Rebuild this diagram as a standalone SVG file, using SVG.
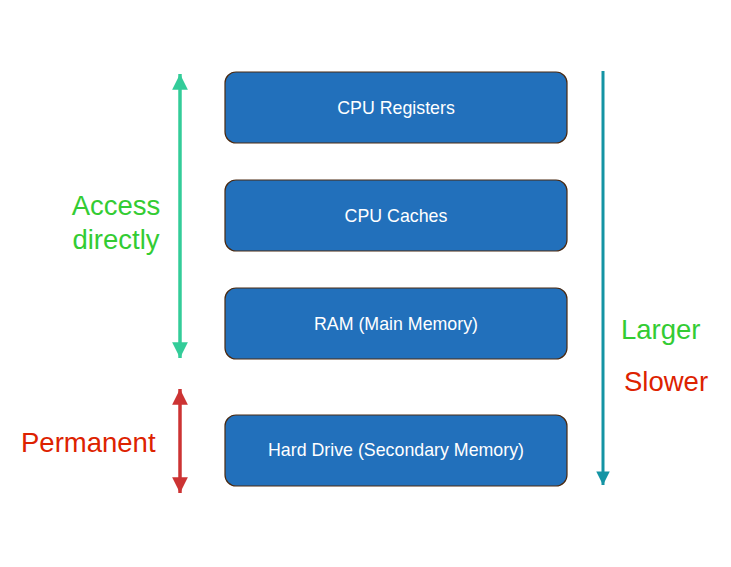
<svg xmlns="http://www.w3.org/2000/svg" width="731" height="567" viewBox="0 0 731 567">
<style>
.box{fill:#2270BB;stroke:#4A2A12;stroke-width:1.2}
.bt{font-family:"Liberation Sans",Arial,sans-serif;font-size:17.8px;fill:#FFFFFF;text-anchor:middle}
.lbl{font-family:"Liberation Sans",Arial,sans-serif;font-size:27.5px}
</style>
<defs>
<marker id="ag" viewBox="0 0 10 10" refX="10" refY="5" markerWidth="5" markerHeight="4.5" orient="auto-start-reverse" markerUnits="strokeWidth"><path d="M0,0 L10,5 L0,10 z" fill="#33CC99"/></marker>
<marker id="ar" viewBox="0 0 10 10" refX="10" refY="5" markerWidth="5" markerHeight="4.5" orient="auto-start-reverse" markerUnits="strokeWidth"><path d="M0,0 L10,5 L0,10 z" fill="#CC3333"/></marker>
<marker id="at" viewBox="0 0 10 10" refX="10" refY="5" markerWidth="5" markerHeight="4.5" orient="auto" markerUnits="strokeWidth"><path d="M0,0 L10,5 L0,10 z" fill="#1494A4"/></marker>
</defs>
<rect width="731" height="567" fill="#FFFFFF"/>
<g id="n1"><rect class="box" x="225" y="72" width="342" height="71" rx="11"/><text class="bt" x="396" y="114">CPU Registers</text></g>
<g id="n2"><rect class="box" x="225" y="180" width="342" height="71" rx="11"/><text class="bt" x="396" y="222">CPU Caches</text></g>
<g id="n3"><rect class="box" x="225" y="288" width="342" height="71" rx="11"/><text class="bt" x="396" y="330">RAM (Main Memory)</text></g>
<g id="n4"><rect class="box" x="225" y="415" width="342" height="71" rx="11"/><text class="bt" x="396" y="456">Hard Drive (Secondary Memory)</text></g>
<g id="connectors">
<line x1="180" y1="74" x2="180" y2="358" stroke="#33CC99" stroke-width="3.5" marker-start="url(#ag)" marker-end="url(#ag)"/>
<line x1="180" y1="389" x2="180" y2="493" stroke="#CC3333" stroke-width="3.5" marker-start="url(#ar)" marker-end="url(#ar)"/>
<line x1="603" y1="71" x2="603" y2="485" stroke="#1494A4" stroke-width="3" marker-end="url(#at)"/>
</g>
<text class="lbl" x="116" y="215" fill="#33CC33" text-anchor="middle">Access</text>
<text class="lbl" x="116" y="249" fill="#33CC33" text-anchor="middle">directly</text>
<text class="lbl" x="621" y="339" fill="#33CC33">Larger</text>
<text class="lbl" x="624" y="391" fill="#DD2200">Slower</text>
<text class="lbl" x="21" y="452" fill="#DD2200">Permanent</text>
</svg>
